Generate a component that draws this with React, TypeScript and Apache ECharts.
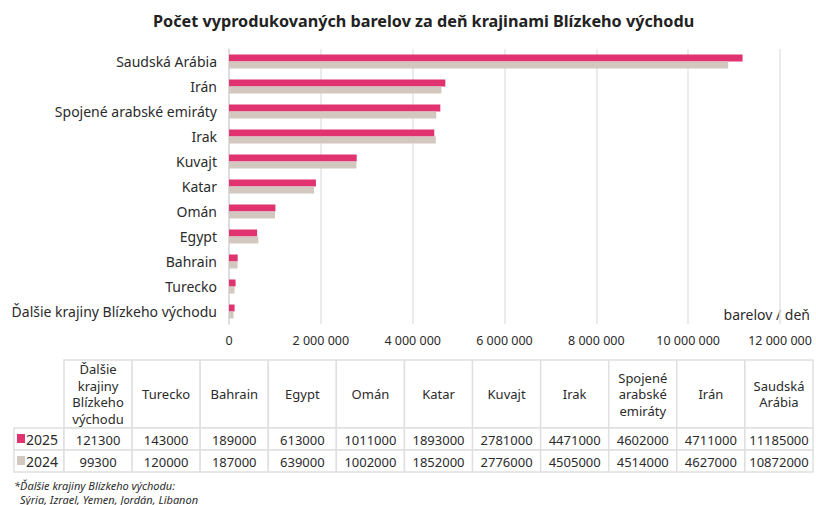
import React, { useEffect, useRef } from "react";
import * as echarts from "echarts";

const title = "Počet vyprodukovaných barelov za deň krajinami Blízkeho východu";
const categories = [
  "Ďalšie krajiny Blízkeho východu",
  "Turecko",
  "Bahrain",
  "Egypt",
  "Omán",
  "Katar",
  "Kuvajt",
  "Irak",
  "Spojené arabské emiráty",
  "Irán",
  "Saudská Arábia",
];
const tableHeaders = [
  "Ďalšie\nkrajiny\nBlízkeho\nvýchodu",
  "Turecko",
  "Bahrain",
  "Egypt",
  "Omán",
  "Katar",
  "Kuvajt",
  "Irak",
  "Spojené\narabské\nemiráty",
  "Irán",
  "Saudská\nArábia",
];
const values2025 = [121300, 143000, 189000, 613000, 1011000, 1893000, 2781000, 4471000, 4602000, 4711000, 11185000];
const values2024 = [99300, 120000, 187000, 639000, 1002000, 1852000, 2776000, 4505000, 4514000, 4627000, 10872000];
const seriesNames = ["2025", "2024"];
const axisMax = 12000000;
const axisInterval = 2000000;
const unitLabel = "barelov / deň";
const footnoteLines = ["*Ďalšie krajiny Blízkeho východu:", "Sýria, Izrael, Yemen, Jordán, Libanon"];

const PINK = "#e0336f";
const BEIGE = "#d2c8bf";
const FONT = "'Noto Sans', Roboto, sans-serif";
const TEXT = "#2b2b2b";
const BORDER = "#e0e0e0";

const fmt = (v: number) => String(v).replace(/\B(?=(\d{3})+(?!\d))/g, " ");

function buildTable(): any[] {
  const els: any[] = [];
  const x0 = 64;
  const x1 = 813;
  const legendX = 14;
  const colW = (x1 - x0) / tableHeaders.length;
  const headTop = 360;
  const headBot = 428;
  const rowH = 22;
  const rows = [values2025, values2024];
  const colors = [PINK, BEIGE];
  tableHeaders.forEach((h, i) => {
    const cx = x0 + i * colW;
    els.push({
      type: "rect",
      shape: { x: cx, y: headTop, width: colW, height: headBot - headTop },
      style: { fill: "#fff", stroke: BORDER, lineWidth: 1.5 },
    });
    els.push({
      type: "text",
      x: cx + colW / 2,
      y: (headTop + headBot) / 2,
      style: {
        text: h,
        fill: TEXT,
        font: `13px ${FONT}`,
        align: "center",
        verticalAlign: "middle",
        lineHeight: 16.5,
      },
    });
  });
  rows.forEach((vals, r) => {
    const top = headBot + r * rowH;
    els.push({
      type: "rect",
      shape: { x: legendX, y: top, width: x0 - legendX, height: rowH },
      style: { fill: "#fff", stroke: BORDER, lineWidth: 1.5 },
    });
    els.push({
      type: "rect",
      shape: { x: 17, y: top + 6, width: 8, height: 9 },
      style: { fill: colors[r] },
    });
    els.push({
      type: "text",
      x: 26,
      y: top + rowH / 2 + 0.5,
      style: {
        text: seriesNames[r],
        fill: TEXT,
        font: `14px ${FONT}`,
        align: "left",
        verticalAlign: "middle",
      },
    });
    vals.forEach((v, i) => {
      const cx = x0 + i * colW;
      els.push({
        type: "rect",
        shape: { x: cx, y: top, width: colW, height: rowH },
        style: { fill: "#fff", stroke: BORDER, lineWidth: 1.5 },
      });
      els.push({
        type: "text",
        x: cx + colW / 2,
        y: top + rowH / 2 + 0.5,
        style: {
          text: String(v),
          fill: TEXT,
          font: `13px ${FONT}`,
          align: "center",
          verticalAlign: "middle",
        },
      });
    });
  });
  footnoteLines.forEach((line, i) => {
    els.push({
      type: "text",
      x: i === 0 ? 14 : 20,
      y: 485 + i * 14,
      style: {
        text: line,
        fill: TEXT,
        font: `italic 11px ${FONT}`,
        align: "left",
        verticalAlign: "middle",
      },
    });
  });
  return els;
}

export default function App() {
  const ref = useRef<HTMLDivElement>(null);
  useEffect(() => {
    if (!ref.current) return;
    const chart = echarts.init(ref.current, undefined, { renderer: "svg" });
    chart.setOption({
      animation: false,
      backgroundColor: "#fff",
      title: {
        text: title,
        left: 148,
        top: 8,
        textStyle: { fontFamily: FONT, fontSize: 16.2, fontWeight: "bold", color: "#222" },
      },
      grid: { left: 229, right: 36, top: 49, bottom: 181, containLabel: false },
      xAxis: {
        type: "value",
        min: 0,
        max: axisMax,
        interval: axisInterval,
        axisLine: { show: false },
        axisTick: { show: false },
        splitLine: { show: true, lineStyle: { color: "#e4e4e4", width: 1.5 } },
        axisLabel: {
          formatter: (v: number) => fmt(v),
          color: TEXT,
          fontFamily: FONT,
          fontSize: 12.5,
          margin: 10,
        },
      },
      yAxis: {
        type: "category",
        data: categories,
        axisLine: { show: true, lineStyle: { color: "#d8d8d8", width: 1.5 } },
        axisTick: { show: false },
        axisLabel: { color: TEXT, fontFamily: FONT, fontSize: 14, margin: 12 },
      },
      series: [
        {
          name: seriesNames[0],
          type: "bar",
          data: values2025,
          barWidth: 7,
          barGap: "0%",
          itemStyle: { color: PINK },
        },
        {
          name: seriesNames[1],
          type: "bar",
          data: values2024,
          barWidth: 7,
          barGap: "0%",
          itemStyle: { color: BEIGE },
        },
      ],
      graphic: [
        {
          type: "text",
          x: 810,
          y: 314,
          style: {
            text: unitLabel,
            fill: TEXT,
            font: `14px ${FONT}`,
            align: "right",
            verticalAlign: "middle",
          },
        },
        ...buildTable(),
      ],
    });
    return () => chart.dispose();
  }, []);
  return (
    <div
      ref={ref}
      style={{ position: "fixed", left: 0, top: 0, width: 816, height: 505, background: "#fff" }}
    />
  );
}
